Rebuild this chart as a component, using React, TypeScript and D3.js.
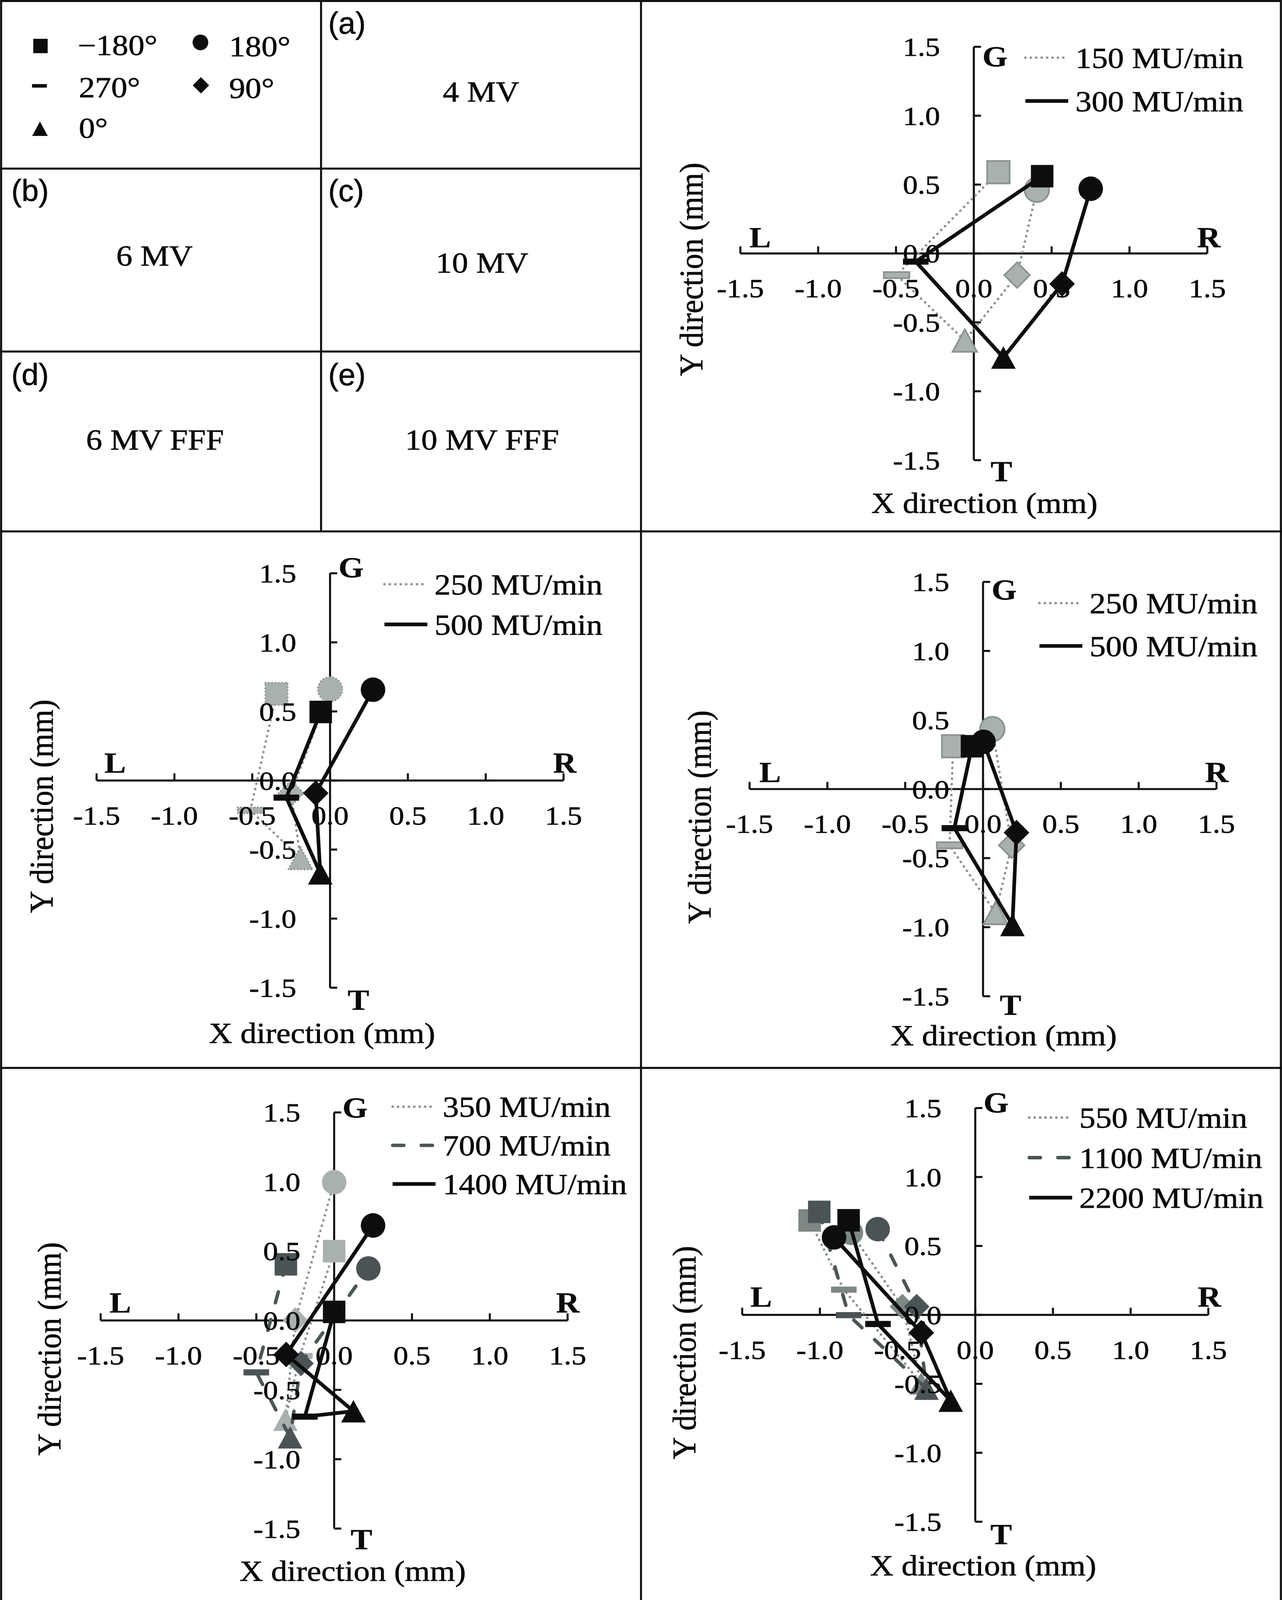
import React from "react";
import * as d3 from "d3";

// gantry angles, in the order the points are joined
const angles = ["−180°", "270°", "0°", "90°", "180°"];
const shapes = ["square", "dash", "triangle", "diamond", "circle"];

const tickValues = [-1.5, -1.0, -0.5, 0, 0.5, 1.0, 1.5];
const tickLabels = ["-1.5", "-1.0", "-0.5", "0.0", "0.5", "1.0", "1.5"];

// (a) 4 MV
const a150x = [0.158, -0.496, -0.058, 0.278, 0.405];
const a150y = [0.59, -0.157, -0.632, -0.157, 0.462];
const a300x = [0.439, -0.373, 0.19, 0.567, 0.751];
const a300y = [0.561, -0.059, -0.755, -0.221, 0.47];

// (b) 6 MV
const b250x = [-0.344, -0.512, -0.19, -0.25, 0.0];
const b250y = [0.627, -0.216, -0.563, -0.092, 0.66];
const b500x = [-0.06, -0.281, -0.063, -0.092, 0.276];
const b500y = [0.496, -0.124, -0.672, -0.092, 0.657];

// (c) 10 MV
const c250x = [-0.192, -0.215, 0.081, 0.184, 0.06];
const c250y = [0.31, -0.407, -0.898, -0.407, 0.434];
const c500x = [-0.071, -0.184, 0.189, 0.215, 0.003];
const c500y = [0.31, -0.283, -0.984, -0.315, 0.342];

// (d) 6 MV FFF
const d350x = [0.0, -0.22, -0.313, -0.25, 0.0];
const d350y = [0.5, -0.256, -0.715, 0.003, 0.997];
const d700x = [-0.31, -0.5, -0.283, -0.213, 0.22];
const d700y = [0.405, -0.374, -0.842, -0.31, 0.375];
const d1400x = [0.0, -0.188, 0.124, -0.308, 0.25];
const d1400y = [0.062, -0.693, -0.654, -0.245, 0.685];

// (e) 10 MV FFF
const e550x = [-1.066, -0.846, -0.347, -0.469, -0.8];
const e550y = [0.685, 0.183, -0.497, 0.06, 0.595];
const e1100x = [-1.004, -0.815, -0.314, -0.377, -0.628];
const e1100y = [0.747, -0.002, -0.535, 0.06, 0.622];
const e2200x = [-0.815, -0.626, -0.158, -0.347, -0.909];
const e2200y = [0.686, -0.066, -0.622, -0.129, 0.562];

const SERIF = "'Liberation Serif','Times New Roman',Times,serif";
const SANS = "'Liberation Sans',Arial,Helvetica,sans-serif";
const SX = 1.13;

const styles: Record<string, any> = {
  light: { stroke: "#8b9493", width: 2.4, dash: "0.1 5.2", cap: "round", fill: "#a9b1b0" },
  mid: { stroke: "#86908f", width: 2.4, dash: "0.1 5.2", cap: "round", fill: "#7c8786" },
  dark: { stroke: "#4d5656", width: 3.4, dash: "11 17", cap: "round", fill: "#4b5454" },
  black: { stroke: "#0d0d0d", width: 3.6, dash: null, cap: "butt", fill: "#0d0d0d" },
};

const panels = [
  {
    key: "a", xL: 724.2, xR: 1181, yT: 45.8, yB: 450.3,
    legX: 1003, legY: 56.4, legDy: 42.4,
    yTitle: [676, 263.6], xTitle: [963, 502],
    G: [961, 65], T: [969, 471], L: [733, 242], R: [1171, 242], outline: "solid",
    series: [
      { name: "150 MU/min", xs: a150x, ys: a150y, kind: "light" },
      { name: "300 MU/min", xs: a300x, ys: a300y, kind: "black" },
    ],
  },
  {
    key: "b", xL: 94.4, xR: 551.2, yT: 561, yB: 966.5,
    legX: 376, legY: 571.7, legDy: 39.3,
    yTitle: [40, 789], xTitle: [315, 1020.8],
    G: [331, 565], T: [340, 988], L: [102, 756], R: [541, 756], outline: "dotted",
    series: [
      { name: "250 MU/min", xs: b250x, ys: b250y, kind: "light" },
      { name: "500 MU/min", xs: b500x, ys: b500y, kind: "black" },
    ],
  },
  {
    key: "c", xL: 733.2, xR: 1190, yT: 569.4, yB: 974.9,
    legX: 1016.8, legY: 590.2, legDy: 41.9,
    yTitle: [683.8, 799.6], xTitle: [981.8, 1023],
    G: [970, 586.8], T: [978, 993], L: [742.8, 765.4], R: [1178.8, 765.4], outline: "solid",
    series: [
      { name: "250 MU/min", xs: c250x, ys: c250y, kind: "light" },
      { name: "500 MU/min", xs: c500x, ys: c500y, kind: "black" },
    ],
  },
  {
    key: "d", xL: 98.4, xR: 555.2, yT: 1088.6, yB: 1495.8,
    legX: 384, legY: 1083, legDy: 37.8,
    yTitle: [48, 1320], xTitle: [345, 1546.8],
    G: [335, 1093.6], T: [343, 1516], L: [107, 1284.5], R: [544, 1284.5], outline: "none",
    series: [
      { name: "350 MU/min", xs: d350x, ys: d350y, kind: "light" },
      { name: "700 MU/min", xs: d700x, ys: d700y, kind: "dark" },
      { name: "1400 MU/min", xs: d1400x, ys: d1400y, kind: "black" },
    ],
  },
  {
    key: "e", xL: 726, xR: 1182, yT: 1084.3, yB: 1489.1,
    legX: 1006.8, legY: 1093.6, legDy: 39.2,
    yTitle: [668.8, 1323.6], xTitle: [961.8, 1541.8],
    G: [962, 1088.6], T: [968.8, 1511], L: [734, 1278.5], R: [1171.6, 1278.5], outline: "none",
    series: [
      { name: "550 MU/min", xs: e550x, ys: e550y, kind: "mid" },
      { name: "1100 MU/min", xs: e1100x, ys: e1100y, kind: "dark" },
      { name: "2200 MU/min", xs: e2200x, ys: e2200y, kind: "black" },
    ],
  },
];

// text with the slight horizontal stretch of the original figure
const Txt = ({ x, y, children, size = 28, anchor = "start", bold = false, sx = SX, family = SERIF }: any) => (
  <text
    transform={`translate(${x},${y}) scale(${sx},1)`}
    textAnchor={anchor}
    fontFamily={family}
    fontSize={size}
    fontWeight={bold ? "bold" : "normal"}
    fill="#0a0a0a"
    stroke="#0a0a0a"
    strokeWidth={bold ? 0.2 : 0.35}
  >
    {children}
  </text>
);

const Marker = ({ shape, cx, cy, s = 1, fill, stroke = "none", sw = 0, dash }: any) => {
  const common = { fill, stroke, strokeWidth: sw, strokeDasharray: dash, strokeLinecap: "round" as const };
  if (shape === "square") {
    const h = 11 * s;
    return <rect x={cx - h} y={cy - h} width={2 * h} height={2 * h} {...common} />;
  }
  if (shape === "circle") return <circle cx={cx} cy={cy} r={12 * s} {...common} />;
  if (shape === "diamond") {
    const h = 12.5 * s;
    return <path d={`M${cx},${cy - h}L${cx + h},${cy}L${cx},${cy + h}L${cx - h},${cy}Z`} {...common} />;
  }
  if (shape === "triangle") {
    const w = 12 * s, h = 11 * s;
    return <path d={`M${cx},${cy - h}L${cx + w},${cy + h}L${cx - w},${cy + h}Z`} {...common} />;
  }
  // dash marker
  return <rect x={cx - 12.5 * s} y={cy - 3 * s} width={25 * s} height={6 * s} {...common} />;
};

const Panel = ({ p }: any) => {
  const x = d3.scaleLinear().domain([-1.5, 1.5]).range([p.xL, p.xR]);
  const y = d3.scaleLinear().domain([-1.5, 1.5]).range([p.yB, p.yT]);
  const ax = x(0);
  const ay = y(0);
  return (
    <g>
      {/* axes */}
      <line x1={p.xL} x2={p.xR} y1={ay} y2={ay} stroke="#111" strokeWidth={2} />
      <line x1={ax} x2={ax} y1={p.yT} y2={p.yB} stroke="#111" strokeWidth={2} />
      {tickValues.map((v) => (
        <g key={"t" + v}>
          <line x1={x(v)} x2={x(v)} y1={ay} y2={ay - 7} stroke="#111" strokeWidth={2} />
          <line x1={ax} x2={ax + 7} y1={y(v)} y2={y(v)} stroke="#111" strokeWidth={2} />
        </g>
      ))}
      {/* series */}
      {p.series.map((s: any) => {
        const st = styles[s.kind];
        const pts: [number, number][] = s.xs.map((v: number, i: number) => [x(v), y(s.ys[i])]);
        const path = d3.line()(pts) as string;
        return (
          <g key={s.name}>
            <path
              d={path}
              fill="none"
              stroke={st.stroke}
              strokeWidth={st.width}
              strokeDasharray={st.dash || undefined}
              strokeLinecap={st.cap}
              strokeLinejoin="round"
            />
            {pts.map(([px, py], i) => {
              const light = s.kind === "light";
              const outline = light && p.outline !== "none";
              return (
                <Marker
                  key={i}
                  shape={shapes[i]}
                  cx={px}
                  cy={py}
                  fill={st.fill}
                  stroke={outline ? "#8a9291" : "none"}
                  sw={outline ? 1.6 : 0}
                  dash={outline && p.outline === "dotted" ? "0.1 3.2" : undefined}
                />
              );
            })}
          </g>
        );
      })}
      {/* tick labels */}
      {tickValues.map((v, i) => (
        <g key={"l" + v}>
          <Txt x={ax - 33} y={y(v) + 9} size={26} sx={1.12} anchor="end">
            {tickLabels[i]}
          </Txt>
          <Txt x={x(v)} y={ay + 43} size={26} sx={1.12} anchor="middle">
            {tickLabels[i]}
          </Txt>
        </g>
      ))}
      <Txt x={p.G[0]} y={p.G[1]} bold size={28}>G</Txt>
      <Txt x={p.T[0]} y={p.T[1]} bold size={28}>T</Txt>
      <Txt x={p.L[0]} y={p.L[1]} bold size={28}>L</Txt>
      <Txt x={p.R[0]} y={p.R[1]} bold size={28}>R</Txt>
      <Txt x={p.xTitle[0]} y={p.xTitle[1]} anchor="middle">X direction (mm)</Txt>
      <text
        transform={`translate(${p.yTitle[0]},${p.yTitle[1]}) scale(1.08,1) rotate(-90)`}
        textAnchor="middle"
        dy="0.35em"
        fontFamily={SERIF}
        fontSize={30}
        fill="#0a0a0a"
        stroke="#0a0a0a"
        strokeWidth={0.35}
      >
        Y direction (mm)
      </text>
      {/* legend */}
      {p.series.map((s: any, i: number) => {
        const st = styles[s.kind];
        const ly = p.legY + i * p.legDy;
        return (
          <g key={"leg" + s.name}>
            <line
              x1={p.legX}
              x2={p.legX + 42}
              y1={ly}
              y2={ly}
              stroke={st.stroke}
              strokeWidth={st.width}
              strokeDasharray={st.dash || undefined}
              strokeLinecap={st.cap}
            />
            <Txt x={p.legX + 49} y={ly + 10}>{s.name}</Txt>
          </g>
        );
      })}
    </g>
  );
};

// key cell in the top-left corner
const keyItems = [
  { shape: "square", mx: 39.5, my: 45, tx: 76, ty: 54 },
  { shape: "dash", mx: 38.5, my: 84, tx: 77, ty: 95 },
  { shape: "triangle", mx: 39, my: 126, tx: 77, ty: 135 },
  { shape: "diamond", mx: 196.5, my: 83.5, tx: 224, ty: 96 },
  { shape: "circle", mx: 196, my: 41.5, tx: 224, ty: 55 },
];

const caseLabels = [
  { tag: "(a)", tx: 321, ty: 33, name: "4 MV", nx: 470.5, ny: 99.5 },
  { tag: "(b)", tx: 11, ty: 197, name: "6 MV", nx: 151, ny: 260 },
  { tag: "(c)", tx: 321, ty: 197, name: "10 MV", nx: 471.5, ny: 267 },
  { tag: "(d)", tx: 11, ty: 377, name: "6 MV FFF", nx: 151.5, ny: 440 },
  { tag: "(e)", tx: 321, ty: 377, name: "10 MV FFF", nx: 471.5, ny: 440 },
];

export default function App() {
  return (
    <div style={{ margin: 0, padding: 0, lineHeight: 0 }}>
      <style>{"body{margin:0;padding:0;background:#fff}"}</style>
      <svg width={3281} height={4102} viewBox="0 0 1254 1568" style={{ display: "block" }}>
        <rect x={0} y={0} width={1254} height={1568} fill="#fff" />
        {/* frame */}
        <rect x={1} y={1} width={1252} height={1566} fill="none" stroke="#111" strokeWidth={2} />
        <line x1={627} x2={627} y1={0} y2={1568} stroke="#111" strokeWidth={2} />
        <line x1={0} x2={1254} y1={520} y2={520} stroke="#111" strokeWidth={2} />
        <line x1={0} x2={1254} y1={1045} y2={1045} stroke="#111" strokeWidth={2} />
        <line x1={314} x2={314} y1={0} y2={520} stroke="#111" strokeWidth={2} />
        <line x1={0} x2={627} y1={165} y2={165} stroke="#111" strokeWidth={2} />
        <line x1={0} x2={627} y1={344} y2={344} stroke="#111" strokeWidth={2} />

        {keyItems.map((k) => {
          const i = shapes.indexOf(k.shape);
          return (
            <g key={k.shape}>
              <Marker shape={k.shape} cx={k.mx} cy={k.my} s={k.shape === "dash" ? 0.58 : 0.64} fill="#0d0d0d" />
              <Txt x={k.tx} y={k.ty}>{angles[i]}</Txt>
            </g>
          );
        })}

        {caseLabels.map((c) => (
          <g key={c.tag}>
            <Txt x={c.tx} y={c.ty} family={SANS} size={30} sx={1}>{c.tag}</Txt>
            <Txt x={c.nx} y={c.ny} anchor="middle">{c.name}</Txt>
          </g>
        ))}

        {panels.map((p) => (
          <Panel key={p.key} p={p} />
        ))}
      </svg>
    </div>
  );
}
